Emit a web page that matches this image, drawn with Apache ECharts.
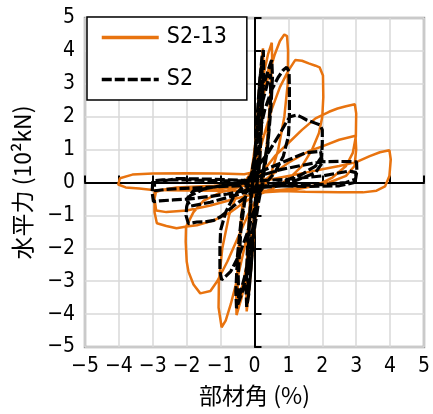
<!DOCTYPE html>
<html lang="ja">
<head>
    <meta charset="UTF-8">
    <title>hysteresis</title>
    <style>
        html, body { margin: 0; padding: 0; background: #fff; }
        #main { width: 433px; height: 414px; }
    </style>
</head>
<body>
<div id="main"></div>
<script src="https://cdn.jsdelivr.net/npm/echarts@6/dist/echarts.min.js"></script>
<script>
    // 部材角(%) , 水平力(10^2 kN) — 各サイクルを図から読み取り
    var xTicks = [-5, -4, -3, -2, -1, 0, 1, 2, 3, 4, 5];
    var yTicks = [-5, -4, -3, -2, -1, 0, 1, 2, 3, 4, 5];

    // S2-13 (オレンジ)
    var s213c1 = [[0,0],[0.05,1.2],[0.12,2.6],[0.2,3.6],[0.25,4.08],[0.26,3.6],[0.22,2.0],[0.15,0.5],[0.1,0],
        [0.05,-0.8],[-0.05,-2.0],[-0.15,-3.2],[-0.23,-3.92],[-0.24,-3.3],[-0.2,-1.8],[-0.12,-0.3],[-0.05,0.2]];
    var s213c2 = [[0.0,0.8],[0.1,2.0],[0.25,3.2],[0.4,3.9],[0.51,4.25],[0.52,3.8],[0.46,2.5],[0.35,1.0],[0.25,0.1],
        [0.1,-0.6],[-0.05,-1.5],[-0.2,-2.6],[-0.38,-3.5],[-0.53,-4.03],[-0.54,-3.4],[-0.47,-2.0],[-0.35,-0.6],[-0.2,0.1]];
    var s213c2b = [[-0.1,0.3],[0.05,1.2],[0.2,2.4],[0.35,3.2],[0.48,3.7],[0.5,3.2],[0.42,1.8],[0.3,0.5],[0.15,-0.2],
        [0.0,-1.0],[-0.15,-2.0],[-0.32,-3.0],[-0.48,-3.6],[-0.5,-3.0],[-0.42,-1.6],[-0.3,-0.4],[-0.1,0.0]];
    var s213c3 = [[-0.05,0.6],[0.05,1.4],[0.2,2.4],[0.4,3.2],[0.6,3.9],[0.75,4.3],[0.88,4.5],[0.96,4.45],[0.99,4.0],
        [0.98,3.0],[0.88,2.0],[0.7,1.0],[0.5,0.3],[0.3,-0.1],[0.1,-0.4],[-0.1,-1.0],[-0.3,-2.0],[-0.5,-2.9],
        [-0.7,-3.7],[-0.85,-4.2],[-0.97,-4.4],[-1.06,-3.8],[-1.05,-3.0],[-0.95,-2.0],[-0.75,-1.0],[-0.5,-0.3],[-0.3,0.0]];
    var s213c4 = [[-0.1,0.3],[0.1,0.8],[0.3,1.5],[0.5,2.2],[0.75,2.9],[1.0,3.4],[1.2,3.72],[1.4,3.7],[1.6,3.62],
        [1.8,3.55],[1.92,3.5],[2.02,3.25],[2.03,2.6],[2.0,2.0],[1.9,1.5],[1.7,1.0],[1.4,0.5],[1.0,0.1],[0.5,-0.2],
        [0.2,-0.3],[0,-0.6],[-0.2,-1.0],[-0.5,-1.7],[-0.8,-2.4],[-1.1,-3.0],[-1.3,-3.3],[-1.6,-3.37],[-1.8,-3.1],
        [-1.95,-2.7],[-2.0,-2.4],[-2.03,-1.8],[-2.02,-1.35],[-1.8,-0.9],[-1.5,-0.55],[-1.0,-0.3],[-0.5,-0.15],[-0.2,0.0]];
    var s213c5 = [[0.0,0.1],[0.3,0.4],[0.6,0.8],[1.0,1.2],[1.4,1.6],[1.8,1.95],[2.0,2.05],[2.2,2.15],[2.45,2.25],
        [2.7,2.32],[2.96,2.38],[3.0,2.1],[2.99,1.4],[2.9,0.9],[2.7,0.5],[2.3,0.15],[1.8,-0.1],[1.0,-0.25],[0.3,-0.3],
        [0,-0.4],[-0.3,-0.6],[-0.7,-0.9],[-1.2,-1.15],[-1.7,-1.3],[-2.0,-1.34],[-2.3,-1.39],[-2.6,-1.32],[-2.88,-1.24],
        [-2.95,-0.9],[-2.95,-0.3],[-2.7,-0.22],[-2.0,-0.2],[-1.0,-0.18],[-0.3,-0.1]];
    var s213c6 = [[0.2,0.0],[1.0,0.6],[1.6,0.95],[2.0,1.1],[2.5,1.3],[2.98,1.42],[3.0,1.0],[2.95,0.5],[2.7,0.2],
        [2.2,0.0],[1.5,-0.15],[0.5,-0.25],[0,-0.35],[-0.6,-0.5],[-1.3,-0.7],[-2.0,-0.85],[-2.6,-0.9],[-2.9,-0.85],
        [-2.95,-0.5],[-2.9,-0.25],[-2.3,-0.15],[-1.2,-0.1],[-0.3,-0.05]];
    var s213c7 = [[0.0,-0.05],[0.5,0.1],[1.0,0.2],[1.5,0.3],[2.0,0.4],[2.5,0.5],[3.0,0.62],[3.4,0.8],[3.7,0.92],
        [3.98,0.98],[4.02,0.7],[3.98,0.2],[3.85,-0.12],[3.6,-0.25],[3.2,-0.3],[2.5,-0.3],[1.5,-0.28],[0.5,-0.25],
        [0,-0.25],[-1,-0.25],[-2,-0.24],[-3,-0.23],[-3.4,-0.18],[-3.8,-0.15],[-4.02,-0.06],[-3.97,0.13],[-3.6,0.24],
        [-3,0.27],[-2,0.28],[-1,0.27],[-0.3,0.25],[-0.1,0.3]];

    // S2 (黒破線)
    var s2c1 = [[0,0],[0.08,1.5],[0.15,3.0],[0.22,3.8],[0.26,4.03],[0.27,3.5],[0.22,2.0],[0.15,0.6],[0.08,0],
        [0.02,-1.0],[-0.08,-2.3],[-0.17,-3.4],[-0.23,-3.78],[-0.25,-3.2],[-0.2,-1.8],[-0.1,-0.4],[-0.03,0.3]];
    var s2c1b = [[0.0,0.6],[0.08,2.0],[0.16,3.2],[0.22,3.6],[0.23,3.0],[0.17,1.4],[0.08,0.2],[-0.02,-1.2],
        [-0.1,-2.6],[-0.18,-3.4],[-0.2,-2.6],[-0.14,-1.0],[-0.04,0.1]];
    var s2c2 = [[0.02,1.0],[0.12,2.0],[0.25,2.9],[0.4,3.4],[0.51,3.72],[0.53,3.2],[0.48,2.2],[0.38,1.0],[0.25,0.1],
        [0.12,-0.6],[0.0,-1.4],[-0.15,-2.4],[-0.35,-3.3],[-0.53,-3.82],[-0.55,-3.3],[-0.5,-2.2],[-0.38,-1.0],[-0.2,-0.1]];
    var s2c2b = [[-0.05,0.4],[0.1,1.5],[0.25,2.5],[0.38,3.0],[0.47,3.3],[0.48,2.6],[0.4,1.3],[0.25,0.3],[0.08,-0.5],
        [-0.08,-1.6],[-0.25,-2.7],[-0.4,-3.3],[-0.47,-3.55],[-0.48,-2.8],[-0.4,-1.4],[-0.25,-0.3],[-0.08,0.2]];
    var s2c3 = [[-0.05,0.5],[0.1,1.3],[0.3,2.2],[0.5,2.8],[0.7,3.2],[0.85,3.42],[0.95,3.5],[1.02,3.38],[1.03,2.8],
        [1.03,2.0],[1.0,1.4],[0.85,0.8],[0.6,0.3],[0.35,0.0],[0.15,-0.3],[0,-0.8],[-0.2,-1.5],[-0.45,-2.2],
        [-0.7,-2.7],[-0.9,-2.9],[-0.97,-2.96],[-1.02,-2.7],[-1.02,-2.0],[-1.0,-1.45],[-0.85,-0.9],[-0.6,-0.4],[-0.3,-0.1]];
    var s2c4 = [[-0.1,0.2],[0.1,0.5],[0.4,0.9],[0.7,1.4],[0.95,1.85],[1.05,2.0],[1.24,2.05],[1.4,1.98],[1.54,1.9],
        [1.75,1.82],[1.93,1.75],[2.0,1.6],[2.0,1.2],[1.98,0.78],[1.8,0.5],[1.4,0.25],[0.9,0.05],[0.4,-0.1],[0.1,-0.2],
        [-0.2,-0.4],[-0.6,-0.7],[-1.0,-1.04],[-1.2,-1.15],[-1.41,-1.19],[-1.7,-1.2],[-1.95,-1.25],[-2.0,-1.29],
        [-2.02,-1.0],[-2.0,-0.73],[-1.9,-0.4],[-1.5,-0.2],[-1.0,-0.1],[-0.4,0.0]];
    var s2c5 = [[0.1,0.3],[0.8,0.6],[1.5,0.9],[1.95,0.95],[2.0,0.6],[1.8,0.3],[1.2,0.05],[0.5,-0.1],[0,-0.2],
        [-0.6,-0.4],[-1.3,-0.6],[-1.9,-0.72],[-2.0,-0.5],[-1.8,-0.25],[-1.0,-0.1],[-0.2,0.0]];
    var s2c6 = [[-0.1,0.1],[0.3,0.25],[0.8,0.4],[1.3,0.5],[1.7,0.58],[2.0,0.63],[2.5,0.64],[3.01,0.63],[3.02,0.35],
        [2.98,0.1],[2.7,0.0],[2.2,-0.05],[1.5,-0.08],[0.8,-0.1],[0.2,-0.15],[-0.3,-0.25],[-0.8,-0.35],[-1.3,-0.42],
        [-1.9,-0.5],[-2.4,-0.53],[-2.8,-0.56],[-2.98,-0.58],[-3.02,-0.3],[-3.0,0.05],[-2.7,0.08],[-2.0,0.08],
        [-1.3,0.06],[-0.5,0.05],[0,0.05]];
    var s2c7 = [[0,0.05],[1,0.1],[2,0.2],[2.8,0.35],[3.0,0.3],[2.95,0.0],[2.5,-0.1],[1.5,-0.12],[0.5,-0.1],
        [-0.5,-0.1],[-1.5,-0.15],[-2.5,-0.2],[-2.95,-0.25],[-2.95,0.0],[-2.3,0.12],[-1.2,0.1],[0,0.05]];

    var s213Data = [].concat(s213c1, s213c2, s213c2b, s213c3, s213c4, s213c5, s213c6, s213c7);
    var s2Data = [].concat(s2c1, s2c1b, s2c2, s2c2b, s2c3, s2c4, s2c5, s2c6, s2c7);

    var numFont = "'DejaVu Sans Condensed', 'Noto Sans CJK JP', sans-serif";
    var jpFont = "'Noto Sans CJK JP', sans-serif";

    function minus(v) {
        return String(v).replace('-', '\u2212');
    }

    var myChart = echarts.init(document.getElementById('main'));
    var option = {
        animation: false,
        grid: {
            left: 85, right: 9, top: 18, bottom: 67,
            show: true,
            borderColor: '#a0a0a0',
            borderWidth: 2.5
        },
        legend: {
            left: 87, top: 17,
            orient: 'vertical',
            backgroundColor: '#fff',
            borderColor: '#000',
            borderWidth: 1.5,
            borderRadius: 0,
            padding: [9, 20, 9, 13],
            itemGap: 19,
            itemWidth: 57,
            itemHeight: 22,
            itemStyle: { opacity: 0 },
            lineStyle: { width: 3.5 },
            textStyle: { fontSize: 23, color: '#000', fontFamily: numFont, padding: [0, 0, 0, 3] },
            data: ['S2-13', 'S2']
        },
        xAxis: [{
            type: 'value', min: xTicks[0], max: xTicks[xTicks.length - 1], interval: 1,
            axisLine: { show: false, onZero: false },
            axisTick: { show: false },
            axisLabel: { fontSize: 21, color: '#000', margin: 9, fontFamily: numFont, formatter: minus },
            splitLine: { show: true, lineStyle: { color: '#d9d9d9', width: 1.5 } },
            name: '部材角 (%)',
            nameLocation: 'middle',
            nameGap: 37,
            nameTextStyle: { fontSize: 23, color: '#000', fontFamily: jpFont }
        }, {
            type: 'value', min: xTicks[0], max: xTicks[xTicks.length - 1], interval: 1,
            position: 'bottom',
            axisLine: { show: true, onZero: true, onZeroAxisIndex: 0, lineStyle: { color: '#000', width: 2 } },
            axisTick: { show: true, inside: true, length: 7, lineStyle: { color: '#000', width: 2 } },
            axisLabel: { show: false },
            splitLine: { show: false }
        }],
        yAxis: [{
            type: 'value', min: yTicks[0], max: yTicks[yTicks.length - 1], interval: 1,
            axisLine: { show: false, onZero: false },
            axisTick: { show: false },
            axisLabel: { fontSize: 21, color: '#000', margin: 10, fontFamily: numFont, formatter: minus },
            splitLine: { show: true, lineStyle: { color: '#d9d9d9', width: 1.5 } },
            name: '水平力 (10²kN)',
            nameLocation: 'middle',
            nameRotate: 90,
            nameGap: 51,
            nameTextStyle: { fontSize: 23, color: '#000', fontFamily: jpFont }
        }, {
            type: 'value', min: yTicks[0], max: yTicks[yTicks.length - 1], interval: 1,
            position: 'left',
            axisLine: { show: true, onZero: true, onZeroAxisIndex: 0, lineStyle: { color: '#000', width: 2 } },
            axisTick: { show: true, inside: true, length: 7, lineStyle: { color: '#000', width: 2 } },
            axisLabel: { show: false },
            splitLine: { show: false }
        }],
        series: [{
            name: 'S2-13',
            type: 'line',
            symbol: 'none',
            data: s213Data,
            lineStyle: { color: '#E8730F', width: 2.5 },
            itemStyle: { color: '#E8730F' }
        }, {
            name: 'S2',
            type: 'line',
            symbol: 'none',
            data: s2Data,
            lineStyle: { color: '#000', width: 3.2, type: [10, 3] },
            itemStyle: { color: '#000' }
        }]
    };
    myChart.setOption(option);
</script>
</body>
</html>
